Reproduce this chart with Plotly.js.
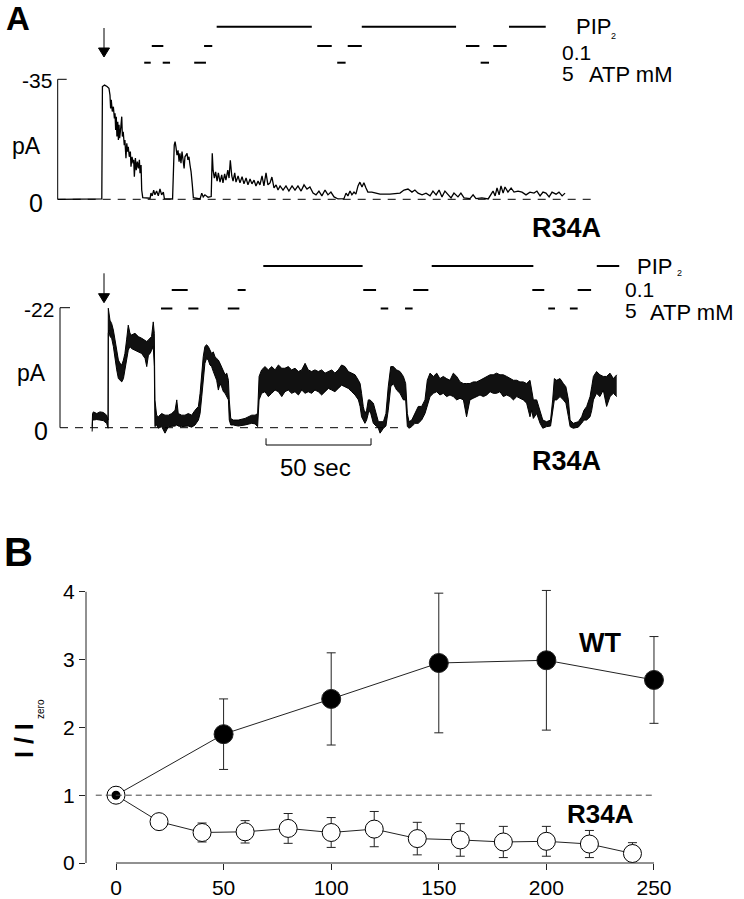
<!DOCTYPE html>
<html><head><meta charset="utf-8">
<script src="https://cdn.plot.ly/plotly-3.0.1.min.js"></script>
<style>body{margin:0;background:#fff}#chart{width:744px;height:899px}</style>
</head><body><div id="chart"></div>
<script>
// ===== Panel A, upper record (time in s, current in pA) =====
const t1 = [0,10.6,21.0,21.3,22.3,23.5,24.4,24.9,25.2,25.5,26.0,26.5,27.0,27.3,27.6,27.9,28.2,28.6,28.9,29.2,29.5,30.0,30.5,30.8,31.2,31.7,32.0,32.5,32.9,33.3,33.6,34.1,34.6,34.9,35.4,35.9,36.2,36.5,37.0,37.4,37.9,38.4,38.9,39.2,39.7,40.0,40.5,
44.0,44.4,45.0,45.7,46.3,47.1,47.9,48.7,49.5,50.3,50.8,54.7,
55.5,55.9,56.3,56.8,57.3,57.8,58.2,58.7,59.2,59.7,60.2,60.6,61.1,61.6,62.0,62.5,63.0,63.5,64.1,64.6,67.8,68.6,69.3,70.1,71.6,73.1,
73.6,74.0,74.6,75.2,75.9,76.5,77.3,78.1,78.7,79.5,80.1,81.0,81.6,82.2,82.9,83.5,84.3,84.9,85.9,86.8,87.8,88.7,89.7,90.6,91.6,92.5,93.5,94.4,95.4,96.3,97.3,98.2,99.2,100.1,101.1,102.0,103.0,
104.0,104.9,105.9,107.3,108.7,110.1,111.6,113.0,114.4,115.9,117.3,118.7,120.1,121.6,123.0,124.4,125.8,127.3,128.7,130.1,131.6,
133.5,136.3,137.3,138.2,139.2,140.1,141.1,142.0,143.0,143.9,144.9,145.8,146.8,147.7,149.6,151.6,153.5,
158.2,163.0,164.9,166.8,168.7,170.1,171.6,173.5,175.4,177.3,178.7,180.2,181.6,183.0,184.4,185.9,187.3,188.7,190.6,192.0,193.5,196.3,
197.8,199.2,202.0,205.0,207.3,208.3,209.2,210.2,211.1,212.1,213.0,214.4,215.9,217.3,219.2,221.1,223.0,224.9,226.8,228.2,229.7,231.1,232.5,234.0,235.4,237.3,238.7,240.2,241.6];
const i1 = [0,-0.1,-0.1,-32.9,-33.3,-32.9,-32.4,-30.4,-26.5,-29.0,-25.6,-27.0,-23.6,-25.1,-20.2,-24.1,-18.3,-22.6,-17.3,-21.7,-17.8,-20.7,-24.1,-18.3,-19.7,-15.8,-17.3,-12.0,-16.3,-13.9,-15.3,-12.4,-13.9,-9.5,-12.4,-10.5,-11.5,-6.6,-12.0,-8.5,-11.0,-9.0,-11.5,-7.6,-10.0,-2.7,-0.5,
-0.3,-1.8,-1.0,-2.7,-1.3,-2.4,-1.0,-3.0,-1.3,-2.1,-0.2,-0.1,
-15.8,-16.8,-15.3,-12.9,-14.3,-11.0,-13.4,-10.5,-13.9,-12.0,-9.0,-12.4,-12.9,-13.4,-11.5,-12.4,-10.0,-8.1,-4.2,-0.5,-0.1,-1.8,-0.7,-1.3,-0.6,-0.8,
-13.4,-8.5,-6.2,-8.0,-5.3,-7.7,-5.0,-7.1,-4.8,-7.4,-5.6,-8.5,-6.2,-11.4,-6.8,-5.3,-7.7,-5.0,-6.8,-4.8,-6.6,-4.5,-6.2,-4.2,-5.9,-4.5,-5.6,-3.9,-5.3,-4.2,-6.8,-3.9,-7.7,-4.2,-4.8,-6.5,-3.3,
-4.2,-2.7,-3.9,-2.7,-3.9,-2.4,-3.9,-2.7,-3.9,-2.4,-4.2,-3.0,-3.6,-1.8,-1.3,-2.4,-1.0,-2.7,-1.3,-2.1,-0.7,
-0.1,-0.2,-1.8,-1.0,-2.4,-1.3,-2.1,-1.5,-3.9,-5.0,-3.6,-4.8,-3.3,-2.1,-2.1,-1.8,-1.5,
-1.5,-1.8,-2.7,-3.0,-2.1,-2.7,-1.8,-1.3,-1.8,-1.0,-2.4,-1.3,-2.7,-0.7,-2.4,-1.5,-0.4,-1.8,-0.7,-1.8,-0.4,-0.2,
-1.3,-0.2,-0.4,-0.1,-2.4,-1.0,-3.3,-1.3,-3.9,-1.8,-3.6,-2.1,-3.3,-2.1,-2.4,-2.1,-1.3,-2.1,-1.8,-2.4,-1.0,-2.1,-1.8,-0.7,-2.1,-1.5,-2.1,-1.0,-1.8];

// ===== Panel A, lower record: noise envelope (time s, pA) =====
const t2 = [16.4,16.6,17.0,18.6,20.1,21.7,23.3,23.8,24.0,24.1,24.4,24.9,25.7,26.5,27.3,28.1,28.9,29.7,30.5,31.3,32.0,32.8,33.6,34.4,35.2,36.8,38.4,40.0,41.6,42.4,43.2,44.0,44.7,45.5,46.0,46.3,47.1,47.9,49.5,51.1,52.7,54.3,55.9,56.7,57.4,59.0,60.6,62.2,63.8,65.4,67.0,67.8,68.6,69.3,70.1,70.9,71.7,72.5,73.3,74.1,74.9,75.7,76.5,77.3,78.1,78.9,79.7,80.5,81.3,81.7,82.4,83.6,86.0,89.2,90.8,92.4,94.0,95.2,95.9,96.5,97.1,98.7,100.3,101.9,103.5,105.1,106.7,108.2,109.8,111.4,113.0,114.6,116.2,117.8,119.3,120.9,122.5,124.1,125.7,127.3,128.9,130.5,132.0,133.6,135.2,136.8,138.4,140.0,141.6,143.2,144.0,144.7,145.5,146.3,147.1,147.9,148.7,150.3,151.9,152.7,153.5,155.1,156.3,157.4,158.6,159.8,161.4,163.0,164.6,165.7,166.5,167.3,168.6,170.1,171.7,173.3,174.9,176.0,177.3,178.9,180.5,182.0,183.6,185.2,186.8,188.4,190.0,191.6,193.2,194.7,196.3,197.9,199.5,201.1,202.7,204.3,205.9,207.4,209.0,210.6,212.2,213.8,215.4,217.0,218.6,220.1,221.7,223.3,224.9,225.7,226.5,228.1,229.7,231.0,232.8,234.7,235.7,236.5,237.6,239.2,240.8,242.0,243.2,244.0,245.5,247.9,249.5,250.6,251.9,253.5,254.3,255.1,256.6,258.2,259.8,261.4,263.0,264.6,266.2];
const i2Peak = [-0.2,-2.6,-2.9,-2.6,-2.9,-2.8,-2.3,-1.4,-1.4,-21.9,-21.0,-19.7,-19.1,-17.9,-16.1,-14.2,-12.4,-11.8,-11.5,-12.4,-13.6,-16.1,-18.8,-17.3,-17.0,-17.3,-16.7,-16.4,-16.1,-15.8,-16.1,-16.4,-16.7,-19.4,-17.3,-5.1,-2.3,-2.0,-2.6,-2.3,-2.3,-2.6,-3.2,-5.1,-2.6,-2.3,-2.3,-2.6,-2.3,-3.2,-3.9,-6.3,-10.0,-13.0,-14.9,-15.2,-14.9,-14.2,-13.6,-13.9,-13.0,-12.7,-12.4,-11.8,-11.2,-10.6,-9.7,-10.0,-8.7,-5.1,-1.7,-1.4,-1.4,-1.7,-2.0,-2.3,-2.3,-2.6,-9.4,-10.0,-10.6,-11.2,-10.6,-11.2,-10.6,-11.5,-10.9,-10.9,-11.2,-10.6,-10.9,-10.3,-10.6,-11.8,-10.6,-10.3,-10.6,-10.3,-10.6,-10.0,-10.3,-10.6,-10.0,-10.6,-11.5,-11.2,-10.3,-10.0,-9.7,-8.7,-8.1,-6.3,-3.9,-2.6,-3.2,-5.1,-5.1,-4.5,-2.0,-1.1,-1.1,-1.1,-2.6,-7.5,-11.2,-11.2,-10.6,-10.3,-9.4,-8.1,-2.6,-1.1,-1.4,-2.6,-3.9,-3.9,-5.1,-8.7,-10.0,-9.4,-10.0,-9.0,-9.4,-9.0,-8.7,-10.0,-9.4,-8.4,-8.1,-8.1,-8.1,-8.4,-8.4,-8.7,-9.0,-9.4,-9.7,-9.7,-10.0,-9.7,-9.7,-9.4,-9.0,-8.7,-8.7,-8.4,-8.4,-8.1,-8.7,-6.9,-5.1,-5.1,-3.2,-1.4,-1.1,-1.4,-5.1,-9.0,-8.7,-9.0,-8.1,-7.5,-5.1,-1.4,-0.8,-1.1,-2.0,-3.2,-3.9,-5.7,-7.5,-9.4,-10.3,-9.7,-9.4,-9.4,-10.0,-9.0,-9.7];
const i2Base = [0.7,-1.4,-1.4,-1.5,-1.4,-1.3,-0.8,0.1,0.1,-17.3,-17.9,-16.7,-16.4,-14.9,-12.4,-10.6,-9.0,-8.7,-8.4,-9.0,-10.6,-12.4,-14.2,-14.9,-14.5,-14.2,-13.9,-13.6,-12.7,-11.2,-13.3,-13.6,-14.2,-14.9,-11.2,-0.2,-0.5,0.1,-0.2,1.0,-0.2,-0.3,-0.3,-0.5,-0.3,-0.2,-0.2,-0.3,-0.1,-0.5,-1.4,-2.6,-5.7,-9.4,-11.8,-12.7,-12.4,-11.5,-11.2,-10.3,-9.4,-8.7,-6.9,-8.1,-7.5,-6.6,-6.3,-5.7,-5.1,-1.4,-0.5,-0.5,-0.3,-0.5,-0.7,-0.8,-0.7,-0.2,-5.1,-5.7,-6.3,-6.6,-5.7,-6.3,-6.9,-6.6,-5.7,-6.6,-6.9,-6.3,-6.6,-6.0,-6.9,-6.3,-6.6,-6.3,-6.9,-6.6,-6.0,-6.6,-7.2,-6.9,-6.6,-7.2,-7.8,-7.5,-7.2,-6.6,-6.0,-5.1,-3.9,-2.0,-1.4,-0.8,-1.4,-2.6,-3.2,-0.8,-0.2,0.1,1.0,0.1,-0.3,-3.2,-7.5,-8.1,-6.9,-6.3,-5.1,-5.1,-0.2,0.1,-0.2,-0.8,-0.8,-1.4,-2.6,-3.9,-5.7,-6.3,-6.6,-6.0,-6.3,-5.7,-6.0,-5.7,-5.1,-5.4,-5.1,-2.0,-5.1,-5.4,-5.7,-6.0,-5.7,-6.0,-6.6,-6.3,-6.3,-6.6,-5.7,-6.0,-5.7,-5.1,-5.7,-5.4,-5.1,-4.5,-2.0,-3.2,-1.7,-2.6,-0.8,0.1,-0.2,-0.3,-2.6,-5.1,-5.1,-5.7,-5.1,-4.5,-2.0,-0.2,0.1,-0.1,-0.8,-1.4,-1.4,-2.0,-3.2,-5.1,-6.3,-5.7,-6.9,-3.9,-5.7,-6.3,-5.7];

// ===== Solution application periods (s) =====
const pip2Upper = [[75.7,121.0],[144.8,189.7],[214.9,232.4]];
const atp01Upper = [[44.8,50.3],[69.7,73.6],[123.6,130.5],[138.1,144.8],[194.4,200.8],[207.4,213.8]];
const atp5Upper = [[41.2,44.3],[50.0,53.5],[65.0,70.6],[133.1,137.1],[201.4,205.4]];
const pip2Lower = [[97.9,145.2],[178.1,226.5],[256.7,267.4]];
const atp01Lower = [[54.3,61.9],[85.7,89.5],[145.5,151.6],[169.3,176.5],[226.0,231.7],[247.6,254.0]];
const atp5Lower = [[49.2,54.6],[62.2,67.0],[81.0,86.5],[153.8,157.4],[165.4,169.0],[233.6,236.8],[243.9,247.6]];
const arrowTimes = [22.05, 22.05];
const calUpper = -35, calLower = -22, scaleSec = 50, scaleStart = 99.2;

// ===== Panel B =====
const wtTime = [0,50,100,150,200,250];
const wtRatio = [1,1.90,2.42,2.95,2.99,2.70];
const wtErr = [0,0.52,0.68,1.03,1.03,0.64];
const r34aTime = [0,20,40,60,80,100,120,140,160,180,200,220,240];
const r34aRatio = [1,0.61,0.45,0.46,0.51,0.45,0.50,0.36,0.34,0.31,0.32,0.28,0.14];
const r34aErr = [0,0,0.14,0.165,0.22,0.22,0.26,0.24,0.24,0.23,0.22,0.20,0.16];
const xTicksB = [0,50,100,150,200,250];
const yTicksB = [0,1,2,3,4];

// ===== layout helpers =====
const W = 744, H = 899;
const FONT = 'Liberation Sans, Arial, Helvetica, sans-serif';
const px = v => v / W, py = v => 1 - v / H;
const T0PX = 57.7, PXPS = 2.1;

function txt(text, x, y, size, o) {
  o = o || {};
  return Object.assign({text, xref:'paper', yref:'paper', x:px(x), y:py(y), showarrow:false,
    xanchor:o.xa || 'center', yanchor:'middle', textangle:o.ang || 0, borderpad:0,
    font:{family:FONT, size, color:'#000'}}, o.extra || {});
}
function rowShapes(list, rowY) {
  return list.map(([a,b]) => ({type:'line', xref:'x', yref:'paper', x0:a, x1:b, y0:py(rowY), y1:py(rowY), line:{color:'#000', width:2}}));
}
function arrowShapes(t, yTop, yTip) {
  const hw = 5.5 / PXPS;
  return [
    {type:'line', xref:'x', yref:'paper', x0:t, x1:t, y0:py(yTop), y1:py(yTip-8), line:{color:'#000', width:1}},
    {type:'path', xref:'x', yref:'paper', path:`M${t-hw},${py(yTip-9)} L${t+hw},${py(yTip-9)} L${t},${py(yTip)} Z`, fillcolor:'#000', line:{color:'#000', width:1}}
  ];
}
function lineD(xr, yr, x0, y0, x1, y1, extra) {
  return Object.assign({type:'line', xref:xr, yref:yr, x0, y0, x1, y1, line:{color:'#000', width:1}}, extra || {});
}

const shapes = [
  lineD('x','y',0,calUpper,0,0), lineD('x','y',0,calUpper,9/PXPS,calUpper),
  lineD('x','y',0,0,254.9,0,{line:{color:'#000', width:1, dash:'8px,7px'}}),
  lineD('x','y2',1.1,calLower,1.1,0), lineD('x','y2',1.1,calLower,1.1+10/PXPS,calLower),
  lineD('x','y2',1.1,0,162.1,0,{line:{color:'#000', width:1, dash:'8px,7px'}}),
  {type:'path', xref:'x', yref:'paper', path:`M${scaleStart},${py(438.3)} L${scaleStart},${py(445)} L${scaleStart+scaleSec},${py(445)} L${scaleStart+scaleSec},${py(438.3)}`, line:{color:'#000', width:1}},
  ...rowShapes(pip2Upper, 26.7), ...rowShapes(atp01Upper, 46), ...rowShapes(atp5Upper, 62.7),
  ...rowShapes(pip2Lower, 266), ...rowShapes(atp01Lower, 290), ...rowShapes(atp5Lower, 308.5),
  ...arrowShapes(arrowTimes[0], 28, 57), ...arrowShapes(arrowTimes[1], 273.3, 302.7),
  lineD('x3','paper',xTicksB[0],py(863),xTicksB[xTicksB.length-1],py(863),{line:{color:'#222', width:1}}),
  lineD('paper','y3',px(86),yTicksB[0],px(86),yTicksB[yTicksB.length-1],{line:{color:'#222', width:1}}),
  lineD('x3','y3',-9.4,1,250,1,{line:{color:'#444', width:1, dash:'6px,4px'}})
];

const annotations = [
  txt('<b>A</b>', 17.5, 18.5, 33),
  txt('-35', 53, 80, 21, {xa:'right'}),
  txt('pA', 26.7, 146.3, 23),
  txt('0', 36.3, 202.5, 25),
  txt('PIP', 575, 26.7, 22, {xa:'left'}),
  txt('2', 610, 35.5, 9, {xa:'left'}),
  txt('0.1', 561, 52.5, 21, {xa:'left'}),
  txt('5', 561, 73, 21, {xa:'left'}),
  txt('ATP mM', 588, 74.5, 22, {xa:'left'}),
  txt('<b>R34A</b>', 566, 228, 27),
  txt('-22', 55, 309, 21, {xa:'right'}),
  txt('pA', 31.3, 373, 23),
  txt('0', 41, 431, 25),
  txt('PIP', 636, 266.5, 22, {xa:'left'}),
  txt('2', 676, 273.3, 9, {xa:'left'}),
  txt('0.1', 624, 289.5, 21, {xa:'left'}),
  txt('5', 624, 310.5, 21, {xa:'left'}),
  txt('ATP mM', 649, 312, 22, {xa:'left'}),
  txt('50 sec', 315.5, 468, 24),
  txt('<b>R34A</b>', 566, 461, 27),
  txt('<b>B</b>', 18.5, 552, 40),
  txt('<b>WT</b>', 600, 643, 27),
  txt('<b>R34A</b>', 600, 814, 26),
  txt('<b>I / I</b>', 24, 741, 25, {ang:-90}),
  txt('zero', 40, 709, 10, {ang:-90})
];

const traces = [
  {type:'scatter', mode:'lines', x:t1, y:i1, xaxis:'x', yaxis:'y', line:{color:'#000', width:1.3}, hoverinfo:'skip'},
  {type:'scatter', mode:'lines', x:t2, y:i2Base, xaxis:'x', yaxis:'y2', line:{color:'#000', width:1}, hoverinfo:'skip'},
  {type:'scatter', mode:'lines', x:t2, y:i2Peak, xaxis:'x', yaxis:'y2', fill:'tonexty', fillcolor:'#111', line:{color:'#000', width:1}, hoverinfo:'skip'},
  {type:'scatter', mode:'lines+markers', x:wtTime, y:wtRatio, xaxis:'x3', yaxis:'y3',
    line:{color:'#222', width:1}, marker:{color:'#000', opacity:1, size:wtTime.map((v,i)=> i===0 ? 0 : 19)},
    error_y:{type:'data', array:wtErr, visible:true, color:'#222', thickness:1, width:4.5}},
  {type:'scatter', mode:'lines+markers', x:r34aTime, y:r34aRatio, xaxis:'x3', yaxis:'y3',
    line:{color:'#222', width:1}, marker:{color:'#fff', opacity:1, size:18, line:{color:'#000', width:1}},
    error_y:{type:'data', array:r34aErr, visible:true, color:'#222', thickness:1, width:4.5}},
  {type:'scatter', mode:'markers', x:[wtTime[0]], y:[wtRatio[0]], xaxis:'x3', yaxis:'y3', marker:{color:'#000', opacity:1, size:9}}
];

const hidden = {visible:false, fixedrange:true, showgrid:false, zeroline:false};
const layout = {
  width:W, height:H, margin:{l:0,r:0,t:0,b:0}, paper_bgcolor:'#fff', plot_bgcolor:'rgba(0,0,0,0)',
  showlegend:false, font:{family:FONT, color:'#000'},
  xaxis:Object.assign({domain:[0,1], range:[-T0PX/PXPS, (W-T0PX)/PXPS]}, hidden),
  yaxis:Object.assign({domain:[py(206.16), py(72.44)], range:[2,-37], anchor:'x'}, hidden),
  yaxis2:Object.assign({domain:[py(438.61), py(296.79)], range:[2,-24], anchor:'x'}, hidden),
  xaxis3:{domain:[px(86), px(679.8)], range:[-13.94, 262], anchor:'y3', tickmode:'array', tickvals:xTicksB,
    ticks:'outside', ticklen:6, tickwidth:1, tickcolor:'#222', showline:false, showgrid:false, zeroline:false,
    tickfont:{family:FONT, size:21, color:'#000'}},
  yaxis3:{domain:[py(863), py(571.46)], range:[0,4.3], anchor:'x3', tickmode:'array', tickvals:yTicksB,
    ticks:'outside', ticklen:6, tickwidth:1, tickcolor:'#222', showline:false, showgrid:false, zeroline:false,
    tickfont:{family:FONT, size:21, color:'#000'}},
  shapes, annotations
};
Plotly.newPlot('chart', traces, layout, {staticPlot:true, displayModeBar:false});
</script></body></html>
